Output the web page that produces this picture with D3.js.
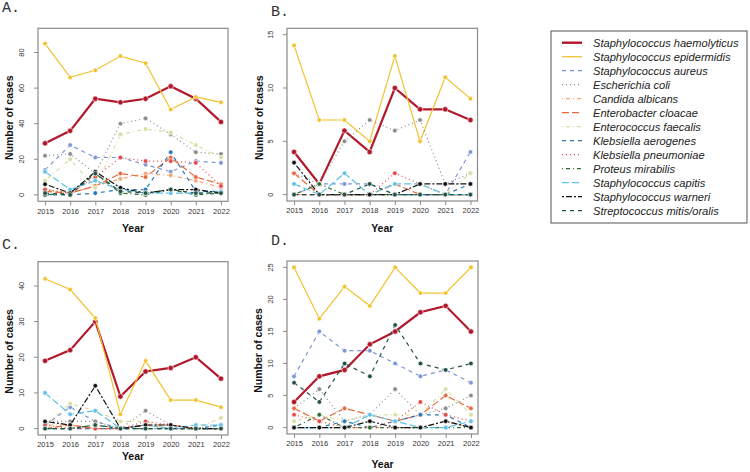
<!DOCTYPE html>
<html><head><meta charset="utf-8">
<script src="https://cdn.jsdelivr.net/npm/d3@7"></script>
<style>body{margin:0;background:#fff}svg{display:block}</style>
</head><body><svg id="c" width="750" height="472"></svg>
<script>
const years = [2015,2016,2017,2018,2019,2020,2021,2022];
const species = ["Staphylococcus haemolyticus","Staphylococcus epidermidis","Staphylococcus aureus","Escherichia coli","Candida albicans","Enterobacter cloacae","Enterococcus faecalis","Klebsiella aerogenes","Klebsiella pneumoniae","Proteus mirabilis","Staphylococcus capitis","Staphylococcus warneri","Streptococcus mitis/oralis"];
const colors = ["#b2182b","#f2c12e","#7b96d4","#8c8c8c","#efa777","#e66a3d","#d9dea4","#2a78b8","#e34a4a","#2f6b35","#5ec1ea","#111111","#234f45"];
const dashes = ["solid","solid","dashed","dotted","dotdash","longdash","dotdash","dashed","dotted","dotdash","longdash","twodash","dashed"];

const dataA = [
 [29,36,54,52,54,61,54,41],
 [85,66,70,78,74,48,55,52],
 [14,28,21,21,17,13,19,18],
 [22,23,12,40,43,34,24,23],
 [3,1,5,9,12,11,8,4],
 [2,1,5,12,10,21,10,6],
 [8,20,4,34,37,35,28,21],
 [0,0,1,3,3,24,2,2],
 [3,1,10,21,19,19,18,5],
 [0,1,12,1,0,3,0,1],
 [13,3,8,3,1,1,1,2],
 [6,1,13,4,1,3,3,1],
 [1,0,12,2,1,3,1,1]
];
const dataB = [
 [4,1,6,4,10,8,8,7],
 [14,7,7,5,13,5,11,9],
 [0,1,1,1,0,0,0,4],
 [2,1,5,7,6,7,1,2],
 [0,0,0,0,0,0,0,0],
 [2,0,0,0,1,0,0,0],
 [0,1,0,0,0,0,0,2],
 [0,0,0,0,0,0,0,1],
 [0,0,0,0,2,1,0,0],
 [0,1,0,0,0,0,0,0],
 [1,0,2,0,1,1,0,0],
 [3,0,0,0,0,1,1,1],
 [0,0,0,1,0,0,0,0]
];
const dataC = [
 [19,22,30,9,16,17,20,14],
 [42,39,31,4,19,8,8,6],
 [1,6,2,0,1,0,0,0],
 [2,2,2,0,5,1,0,1],
 [1,1,0,0,1,0,0,0],
 [0,1,0,0,1,1,0,0],
 [1,7,5,2,2,0,0,3],
 [0,0,0,0,0,0,0,1],
 [1,0,0,0,2,1,0,0],
 [0,0,1,0,0,0,0,0],
 [10,4,5,0,1,0,1,1],
 [2,1,12,0,1,1,0,0],
 [0,0,1,0,0,0,0,0]
];
const dataD = [
 [4,8,9,13,15,18,19,15],
 [25,17,22,19,25,21,21,25],
 [8,15,12,12,10,8,9,7],
 [3,6,1,2,6,2,3,5],
 [0,0,0,0,0,0,1,0],
 [3,1,3,2,1,2,5,3],
 [1,2,1,2,2,2,6,2],
 [0,0,1,0,1,2,2,0],
 [2,1,0,0,1,4,2,1],
 [0,2,0,0,0,0,0,0],
 [0,0,0,2,1,0,0,1],
 [0,0,0,1,0,0,1,0],
 [7,4,10,8,16,10,9,10]
];
const ticksA = [0,20,40,60,80], ticksB = [0,5,10,15], ticksC = [0,10,20,30,40], ticksD = [0,5,10,15,20,25];
const ylimA = 90, ylimB = 15, ylimC = 45, ylimD = 25;
const panelLabels = ["A.","B.","C.","D."];

const dashMap = {solid:null, dashed:"4,4", dotted:"1,3", dotdash:"1,3,4,3", longdash:"7,3", twodash:"2,2,6,2"};
const svg = d3.select("#c");

const panels = [
 {data:dataA, ticks:ticksA, ylim:ylimA, lab:panelLabels[0], box:[38,228,28.3,201.3], labPos:[2,12], ylabX:9, yearY:232},
 {data:dataB, ticks:ticksB, ylim:ylimB, lab:panelLabels[1], box:[287,477.5,28.3,201], labPos:[271,16], ylabX:259, yearY:232},
 {data:dataC, ticks:ticksC, ylim:ylimC, lab:panelLabels[2], box:[38,228,261.7,435], labPos:[2,248.5], ylabX:9, yearY:460},
 {data:dataD, ticks:ticksD, ylim:ylimD, lab:panelLabels[3], box:[287,478,261,434], labPos:[271,245], ylabX:258, yearY:468}
];

panels.forEach(p => {
  const [x0,x1,y0,y1] = p.box;
  const xs = d3.scaleLinear().domain([2015-0.28, 2022+0.28]).range([x0,x1]);
  const ys = d3.scaleLinear().domain([-0.04*p.ylim, p.ylim*1.04]).range([y1,y0]);
  const g = svg.append("g");
  g.append("text").attr("x",p.labPos[0]).attr("y",p.labPos[1]).text(p.lab)
    .attr("font-family","Liberation Mono, Courier New, monospace").attr("font-size",15).attr("fill","#333");
  g.append("rect").attr("x",x0).attr("y",y0).attr("width",x1-x0).attr("height",y1-y0)
    .attr("fill","none").attr("stroke","#8a8a8a").attr("stroke-width",1.2);
  const xa = d3.axisBottom(xs).tickValues(years).tickFormat(d3.format("d")).tickSize(4).tickPadding(3);
  const xg = g.append("g").attr("transform",`translate(0,${y1})`).call(xa);
  const ya = d3.axisLeft(ys).tickValues(p.ticks).tickSize(4).tickPadding(0);
  const yg = g.append("g").attr("transform",`translate(${x0},0)`).call(ya);
  [xg,yg].forEach(a=>{
    a.select(".domain").remove();
    a.selectAll("line").attr("stroke","#8a8a8a");
    a.selectAll("text").attr("font-family","Liberation Sans, Arial, sans-serif").attr("font-size",7.5).attr("fill","#333");
  });
  yg.selectAll(".tick").attr("transform",null);
  yg.selectAll(".tick line").attr("transform",d=>`translate(0,${ys(d)})`);
  yg.selectAll(".tick text").each(function(d){
      d3.select(this).attr("x",null).attr("dy",null).attr("y",0)
       .attr("transform",`translate(-16,${ys(d)}) rotate(-90)`)
       .attr("text-anchor","middle").attr("dominant-baseline","middle");
  });
  g.append("text").attr("x",(x0+x1)/2).attr("y",p.yearY).attr("text-anchor","middle")
    .attr("font-family","Liberation Sans, Arial, sans-serif").attr("font-weight","bold").attr("font-size",10.5).attr("fill","#111").text("Year");
  g.append("text").attr("transform",`translate(${p.ylabX+4},${(y0+y1)/2+3}) rotate(-90)`).attr("text-anchor","middle")
    .attr("font-family","Liberation Sans, Arial, sans-serif").attr("font-weight","bold").attr("font-size",10.5).attr("fill","#111").text("Number of cases");
  const line = d3.line().x((d,i)=>xs(years[i])).y(d=>ys(d));
  p.data.forEach((vals,si) => {
    g.append("path").datum(vals).attr("d",line).attr("fill","none")
      .attr("stroke",colors[si]).attr("stroke-width", si===0?2.2:1.2)
      .attr("stroke-dasharray",dashMap[dashes[si]]);
    g.selectAll(null).data(vals).enter().append("circle")
      .attr("cx",(d,i)=>xs(years[i])).attr("cy",d=>ys(d)).attr("r",si===0?2.7:2.3)
      .attr("fill",colors[si]).attr("stroke","#fff").attr("stroke-width",0.6);
  });
});

const lg = svg.append("g");
lg.append("rect").attr("x",551).attr("y",31).attr("width",196).attr("height",192)
  .attr("fill","#fff").attr("stroke","#555").attr("stroke-width",1);
const ly = d3.scalePoint().domain(species).range([42.7,210.7]);
species.forEach((s,i)=>{
  const y = ly(s);
  lg.append("line").attr("x1",562).attr("x2",582).attr("y1",y).attr("y2",y)
    .attr("stroke",colors[i]).attr("stroke-width",i===0?2.4:1.3).attr("stroke-dasharray",dashMap[dashes[i]]);
  lg.append("text").attr("x",593).attr("y",y).attr("dy","0.36em").text(s)
    .attr("font-family","Liberation Sans, Arial, sans-serif").attr("font-style","italic").attr("font-size",11.1).attr("fill","#222");
});
</script></body></html>
